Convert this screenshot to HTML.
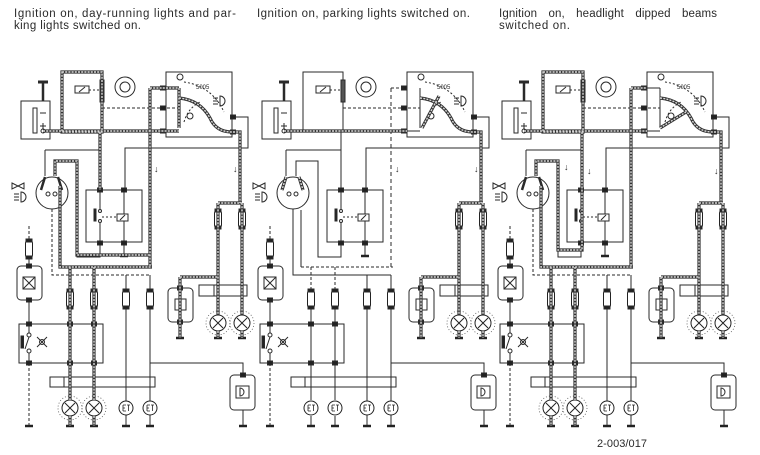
<!DOCTYPE html>
<html><head><meta charset="utf-8"><style>
html,body{margin:0;padding:0;background:#fff;}
svg{display:block;}
text{font-family:"Liberation Sans",sans-serif;fill:#2a2a2a;}
</style></head><body>
<svg width="760" height="455" viewBox="0 0 760 455" xmlns="http://www.w3.org/2000/svg">
<defs>
<g id="lamp"><circle r="12" fill="none" stroke="#555" stroke-width="0.8" stroke-dasharray="1 2"/><circle r="8" fill="#fff" stroke="#222"/><path d="M-5,-5L5,5M5,-5L-5,5" stroke="#222"/></g>
<g id="fuse"><rect x="-3.5" y="0" width="7" height="18" rx="3" fill="#fff" stroke="#222"/><rect x="-3" y="-1" width="6" height="3" fill="#222"/><rect x="-3" y="16" width="6" height="3" fill="#222"/></g>
<g id="gnd"><path d="M-4,0H4" stroke="#222" stroke-width="2.5"/></g>
<g id="node"><rect x="-2.5" y="-2" width="5" height="4" fill="#222"/></g>
<g id="gauge"><circle r="7" fill="#fff" stroke="#222"/><path d="M-3,-3V3M-3,-3H0M-3,0H-1M-3,3H0M1,-3H4M2.5,-3V3" stroke="#222" stroke-width="0.8"/></g>

<g id="base" fill="none" stroke="#2a2a2a" stroke-width="1">
  <rect x="50" y="377" width="105" height="10" fill="#fff"/><path d="M64,377V387"/>
  <rect x="199" y="285" width="48" height="11" fill="#fff"/><path d="M214,285V296"/>
  <!-- battery -->
  <rect x="21" y="101" width="29" height="38"/>
  <rect x="33" y="108" width="4" height="25"/>
  <path d="M43,82V101" stroke-width="2.5"/>
  <path d="M38,82H48" stroke-width="3"/>
  <path d="M40,113H46M40,126H46M43,123V129"/>
  <circle cx="43" cy="131" r="2"/>
  <!-- module -->
  <rect x="62" y="72" width="40" height="60"/>
  <rect x="75" y="86" width="14" height="7"/>
  <path d="M79,92L85,87"/>
  <path d="M89,90H100" stroke-dasharray="2 2"/>
  <rect x="100" y="80" width="4" height="22" fill="#555"/>
  <circle cx="125" cy="87" r="10"/><circle cx="125" cy="87" r="5"/>
  <!-- cluster -->
  <rect x="166" y="72" width="66" height="65"/>
  <circle cx="180" cy="77" r="3"/>
  <path d="M184,82Q212,86 224,112" stroke-dasharray="2 2"/>
  <path d="M184,122Q188,108 200,102" stroke-dasharray="2 2"/>
  <path d="M179,88V128"/>
  <path d="M179,98Q200,100 210,118Q216,132 232,132"/>
  <path d="M220,96A5,5 0 0 1 220,106Z M213,98H218M213,101H218M213,104H218"/>
  <circle cx="190" cy="116" r="3"/>
  <path d="M102,108H179" stroke-dasharray="3 2"/>
  <path d="M50,131H179"/>
  <path d="M232,117H248V148H125V190"/>
  <path d="M232,132H240V203"/>
  <path d="M218,203H242M218,203V210M242,203V210M218,228V315M242,228V315M218,331V338M242,331V338"/>
  <rect x="168" y="288" width="25" height="34" rx="4"/><rect x="175" y="299" width="11" height="11"/>
  <path d="M180,277V288M180,322V338M180,277H218"/>
  <!-- ignition switch -->
  <circle cx="52" cy="193" r="16"/>
  <path d="M45,150V176M45,150H100"/>
  <path d="M55,176V161H77V257H100V243"/>
  <path d="M45,177L41,190M58,177L62,190" stroke-width="2.5"/>
  <circle cx="48" cy="194" r="2"/><circle cx="55" cy="194" r="2"/>
  <path d="M21,192A5,5 0 0 1 21,202Z M14,194H19M14,197H19M14,200H19"/>
  <path d="M12,183L18,186L12,189Z M24,183L18,186L24,189Z"/>
  <!-- relay -->
  <path d="M100,132V190"/>
  <rect x="86" y="190" width="56" height="52"/>
  <path d="M100,190V209M100,223V243"/><circle cx="100" cy="211" r="1.5"/><circle cx="100" cy="221" r="1.5"/>
  <rect x="94" y="209" width="2" height="12" fill="#222"/>
  <path d="M102,217H117" stroke-dasharray="2 2"/>
  <rect x="117" y="214" width="11" height="7"/><path d="M120,220L125,215"/>
  <path d="M124,190V214M124,221V256"/>
  <!-- left column -->
  <path d="M29,226V240" stroke-dasharray="3 2"/>
  <path d="M29,258V266M29,300V324"/>
  <rect x="17" y="266" width="25" height="34" rx="4"/><rect x="23" y="277" width="12" height="12"/><path d="M23,277L35,289M35,277L23,289"/>
  <rect x="19" y="324" width="84" height="39"/>
  <path d="M29,324V333M29,353V363"/><circle cx="29" cy="335" r="2"/><circle cx="29" cy="351" r="2"/><path d="M29,337L25,349"/>
  <rect x="21" y="336" width="2.5" height="12" fill="#222"/>
  <path d="M37,337L47,347M47,337L37,347"/><circle cx="42" cy="342" r="2.5"/>
  <path d="M29,363V426" stroke-dasharray="3 2"/>
  <!-- lower verticals -->
  <path d="M126,275V290M150,275V290"/>
  <path d="M70,309V400M94,309V400M126,309V401M150,309V401"/>
  <path d="M70,416V426M94,416V426M126,415V426M150,415V426"/>
  <path d="M150,363H243V375"/>
  <rect x="230" y="375" width="25" height="35" rx="4"/><rect x="236" y="386" width="13" height="12"/>
  <path d="M240,388A4,4 0 0 1 240,396Z"/>
  <path d="M243,410V426"/>
  <use href="#fuse" x="29" y="240"/><use href="#fuse" x="70" y="290"/><use href="#fuse" x="94" y="290"/>
  <use href="#fuse" x="126" y="290"/><use href="#fuse" x="150" y="290"/><use href="#fuse" x="218" y="210"/><use href="#fuse" x="242" y="210"/>
  <use href="#lamp" x="218" y="323"/><use href="#lamp" x="242" y="323"/>
  <use href="#gauge" x="126" y="408"/><use href="#gauge" x="150" y="408"/>
  <use href="#gnd" x="124" y="256"/><use href="#gnd" x="180" y="338"/><use href="#gnd" x="218" y="338"/><use href="#gnd" x="242" y="338"/>
  <use href="#gnd" x="29" y="426"/><use href="#gnd" x="70" y="426"/><use href="#gnd" x="94" y="426"/><use href="#gnd" x="126" y="426"/>
  <use href="#gnd" x="150" y="426"/><use href="#gnd" x="243" y="426"/>
  <use href="#node" x="100" y="190"/><use href="#node" x="124" y="190"/><use href="#node" x="100" y="243"/><use href="#node" x="124" y="243"/>
  <use href="#node" x="163" y="88"/><use href="#node" x="163" y="108"/><use href="#node" x="163" y="131"/>
  <use href="#node" x="29" y="266"/><use href="#node" x="29" y="300"/><use href="#node" x="29" y="324"/><use href="#node" x="29" y="363"/>
  <use href="#node" x="70" y="324"/><use href="#node" x="94" y="324"/><use href="#node" x="70" y="363"/><use href="#node" x="94" y="363"/>
  <use href="#node" x="233" y="117"/><use href="#node" x="233" y="132"/><use href="#node" x="180" y="288"/><use href="#node" x="180" y="322"/>
  <use href="#node" x="243" y="375"/>
</g>

<!-- panel-specific thin wiring -->
<g id="w13" fill="none" stroke="#2a2a2a" stroke-width="1">
  <path d="M150,88H179"/>
  <path d="M52,209V275H150" stroke-dasharray="3 2"/>
  <path d="M60,186V267H152"/>
  <path d="M150,88V267"/>
  <path d="M70,267V290M94,267V290"/>
  <use href="#lamp" x="70" y="408"/><use href="#lamp" x="94" y="408"/>
</g>
<g id="w2" fill="none" stroke="#2a2a2a" stroke-width="1">
  <path d="M150,88H166" stroke-dasharray="3 2"/>
  <path d="M52,209V275H150"/>
  <path d="M60,210V267"/><path d="M60,267H152" stroke-dasharray="3 2"/>
  <path d="M150,88V267" stroke-dasharray="4 3"/>
  <path d="M70,267V290M94,267V290" stroke-dasharray="3 2"/>
  <use href="#gauge" x="70" y="408"/><use href="#gauge" x="94" y="408"/>
</g>

<g id="t1">
  <path d="M43,131H179"/>
  <path d="M62,72H102V132H62Z"/>
  <path d="M100,132V190"/>
  <path d="M150,88V267M150,88H179"/>
  <path d="M60,186V267H152"/>
  <path d="M55,176V161H77V255H150"/>
  <path d="M70,267V400M94,267V400M70,416V426M94,416V426"/>
  <path d="M179,88V128"/>
  <path d="M179,98Q200,100 210,118Q216,132 232,132H240V203"/>
  <path d="M218,203H242M218,203V315M242,203V315M218,331V338M242,331V338"/>
  <path d="M180,277H218M180,277V338"/>
</g>
<g id="t2">
  <path d="M43,131H166"/>
  <path d="M45,177L41,190M58,177L62,190"/>
  <path d="M179,98Q200,100 210,118Q216,132 232,132H240V203"/>
  <path d="M181,128L198,96"/>
  <path d="M218,203H242M218,203V315M242,203V315M218,331V338M242,331V338"/>
  <path d="M180,277H218M180,277V338"/>
</g>
<g id="t3">
  <path d="M43,131H166"/>
  <path d="M62,72H102V132H62Z"/>
  <path d="M101,132V250H77V161H55V176"/>
  <path d="M150,88V267M150,88H166"/>
  <path d="M60,186V267H152"/>
  <path d="M70,267V400M94,267V400M70,416V426M94,416V426"/>
  <path d="M179,128L205,112"/>
  <path d="M179,98Q200,100 210,118Q216,132 232,132H240V203"/>
  <path d="M218,203H242M218,203V315M242,203V315M218,331V338M242,331V338"/>
  <path d="M180,277H218M180,277V338"/>
</g>
</defs>

<rect width="760" height="455" fill="#fff"/>

<use href="#base"/>
<use href="#base" x="241"/>
<use href="#base" x="481"/>
<use href="#w13"/>
<use href="#w2" x="241"/>
<use href="#w13" x="481"/>

<g fill="none">
  <use href="#t1" stroke="#333" stroke-width="3.2"/>
  <use href="#t1" stroke="#d8d8d8" stroke-width="1.4" stroke-dasharray="2 1.2"/>
  <use href="#t2" x="241" stroke="#333" stroke-width="3.2"/>
  <use href="#t2" x="241" stroke="#d8d8d8" stroke-width="1.4" stroke-dasharray="2 1.2"/>
  <use href="#t3" x="481" stroke="#333" stroke-width="3.2"/>
  <use href="#t3" x="481" stroke="#d8d8d8" stroke-width="1.4" stroke-dasharray="2 1.2"/>
</g>

<g font-size="6">
  <text x="196" y="89">5005</text><text x="437" y="89">5005</text><text x="677" y="89">5005</text>
</g>
<g font-size="9" fill="#444">
  <text x="154" y="172">↓</text><text x="233" y="172">↓</text>
  <text x="395" y="172">↓</text><text x="474" y="172">↓</text>
  <text x="564" y="170">↓</text><text x="587" y="174">↓</text><text x="714" y="174">↓</text>
</g>

<g font-size="11.5">
  <text x="14" y="17" textLength="222" lengthAdjust="spacing">Ignition on, day-running lights and par-</text>
  <text x="14" y="29" textLength="127" lengthAdjust="spacing">king lights switched on.</text>
  <text x="257" y="17" textLength="213" lengthAdjust="spacing">Ignition on, parking lights switched on.</text>
  <text x="499" y="17" textLength="218" lengthAdjust="spacing" word-spacing="8">Ignition on, headlight dipped beams</text>
  <text x="499" y="29" textLength="71" lengthAdjust="spacing">switched on.</text>
</g>
<text x="597" y="447" font-size="11" fill="#444" textLength="50" lengthAdjust="spacing">2-003/017</text>
</svg>
</body></html>
